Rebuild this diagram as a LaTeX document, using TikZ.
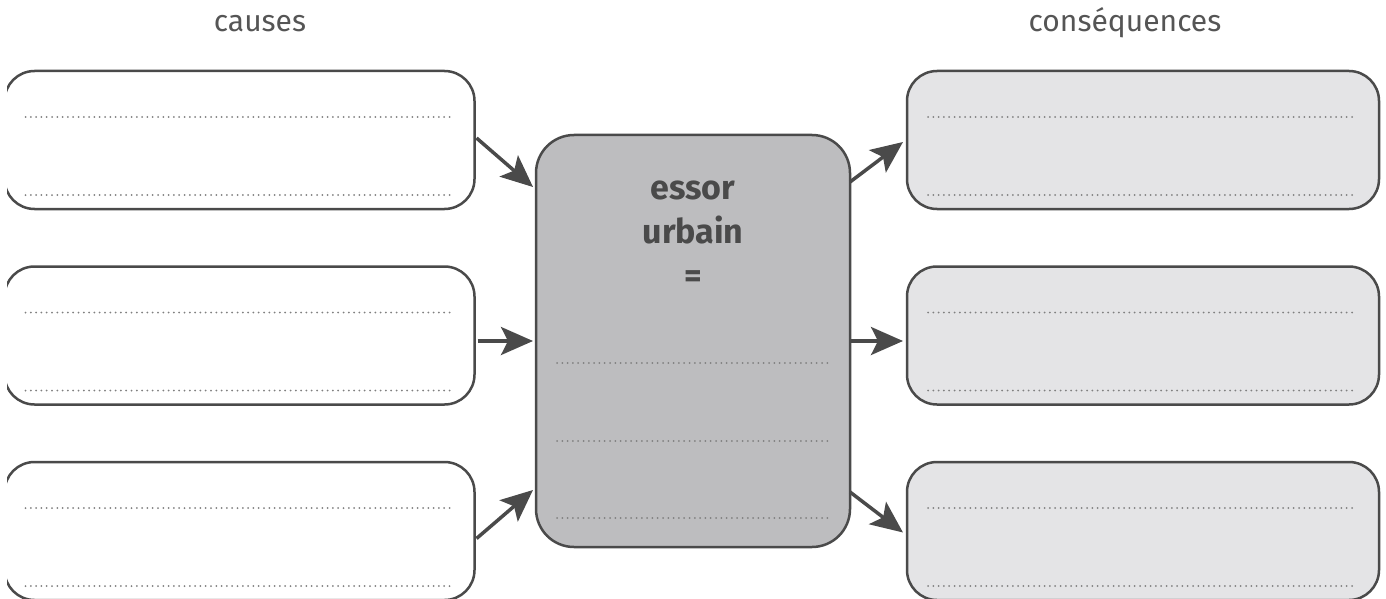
\documentclass[tikz,border=0pt]{standalone}
\usepackage{fontspec}
\setmainfont{Fira Sans}
\usepackage{xcolor}
\usetikzlibrary{arrows.meta,positioning}
\definecolor{trait}{HTML}{4A4A4A}
\definecolor{gris}{HTML}{BDBDBF}
\definecolor{grisclair}{HTML}{E4E4E6}
\definecolor{texte}{HTML}{555555}
\definecolor{points}{HTML}{808080}

\begin{document}
\begin{tikzpicture}[x=1pt, y=-1pt, node distance=57.5pt,
    cadre/.style={draw=trait, line width=2.5pt, rounded corners=30pt, outer sep=0pt, inner sep=0pt, minimum width=470pt, minimum height=138pt},
    fleche/.style={draw=trait, line width=3.5pt, -{Stealth[length=32pt, width=28pt, inset=7pt]}},
    pointilles/.style={draw=points, line width=2pt, line cap=round, dash pattern=on 0pt off 5.3pt},
    titre/.style={text=texte, font=\fontsize{30}{36}\selectfont, anchor=base}]
            \useasboundingbox (0,0) rectangle (1386,599);
            \clip (7,0) rectangle (1386,599);
            \node [titre] (causes) at (260,32) {causes};
            \node [titre] (consequences) at (1125,32) {conséquences};
            \node [cadre, fill=white] (c1) at (239.5,140) {};
            \node [cadre, fill=white, below = of c1] (c2) {};
            \node [cadre, fill=white, below = of c2] (c3) {};
            \node [cadre, fill=grisclair, minimum width=472pt] (q1) at (1143,140) {};
            \node [cadre, fill=grisclair, minimum width=472pt, below = of q1] (q2) {};
            \node [cadre, fill=grisclair, minimum width=472pt, below = of q2] (q3) {};
            \node [draw=trait, line width=2.5pt, fill=gris, rounded corners=38pt, outer sep=0pt, minimum width=314pt, minimum height=412pt] (essor) at (693,341) {};
            \node [text=trait, font=\fontsize{34}{44}\selectfont\bfseries, align=center, inner sep=0pt, anchor=north] (libelle) at (693,181) {essor\\urbain\\=};
            \foreach \n in {c1,c2,c3,q1,q2,q3} {
                \draw [pointilles] ([shift={(21,46)}]\n.north west) -- ([shift={(-22,46)}]\n.north east);
                \draw [pointilles] ([shift={(21,124)}]\n.north west) -- ([shift={(-22,124)}]\n.north east);
            }
            \foreach \y in {228,306,383}
                \draw [pointilles] ([shift={(21,\y)}]essor.north west) -- ([shift={(-20,\y)}]essor.north east);
            \draw [fleche] ([shift={(2,-2)}]c1.east) -- ([shift={(-3,52)}]essor.north west);
            \draw [fleche, shorten <=3pt, shorten >=3pt] (c2.east |- essor.west) -- (essor.west);
            \draw [fleche] ([shift={(2,7.5)}]c3.east) -- ([shift={(-3,-57)}]essor.south west);
            \draw [fleche] ([shift={(0,47)}]essor.north east) -- ([shift={(-4,2)}]q1.west);
            \draw [fleche, shorten <=1pt, shorten >=4pt] (essor.east) -- (q2.west |- essor.east);
            \draw [fleche] ([shift={(0,-55)}]essor.south east) -- ([shift={(-4,1.5)}]q3.west);
\end{tikzpicture}
\end{document}
